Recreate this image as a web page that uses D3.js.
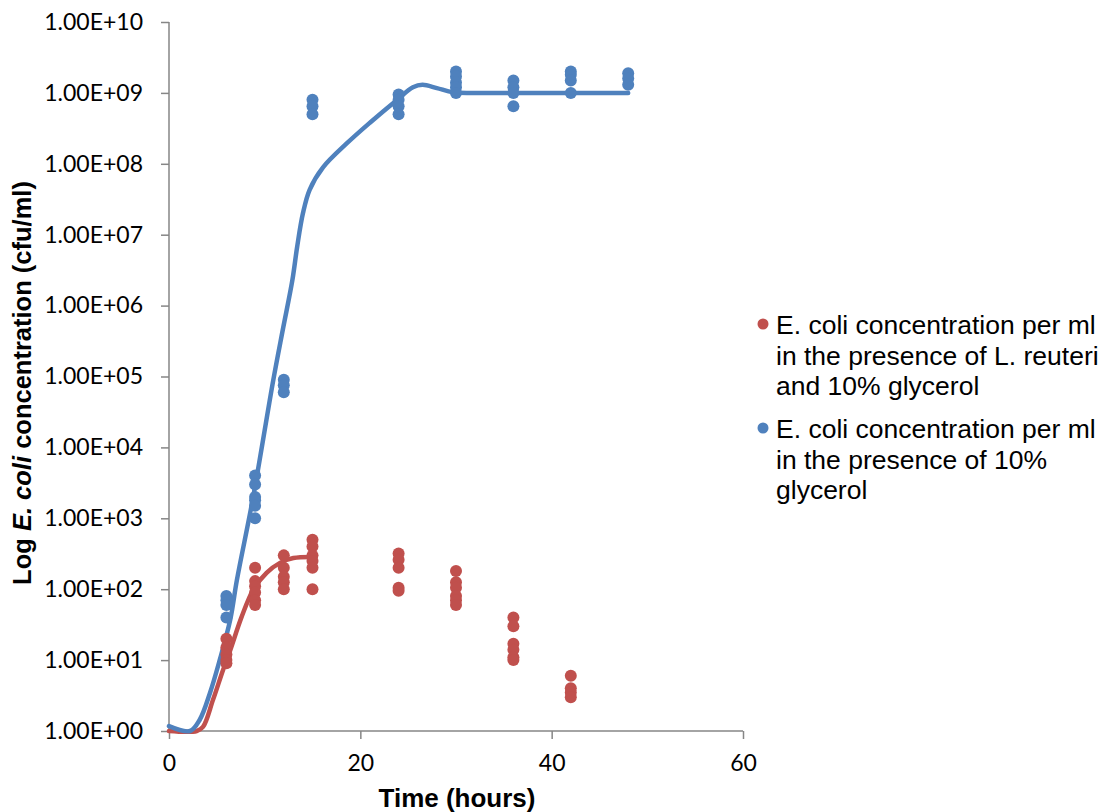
<!DOCTYPE html>
<html>
<head>
<meta charset="utf-8">
<script src="https://cdn.jsdelivr.net/npm/d3@7"></script>
<style>
  html, body { margin: 0; padding: 0; background: #fff; }
  svg { display: block; }
</style>
</head>
<body>
<svg id="chart" width="1108" height="812"></svg>
<script>
// ---- data ----
const glycerolHours = [6, 9, 12, 15, 24, 30, 36, 42, 48];
const glycerolCounts = [
  [80, 70, 60, 40],
  [4000, 3000, 2000, 1800, 1500, 1000],
  [90000, 75000, 60000],
  [8e8, 6.5e8, 5e8],
  [9.5e8, 8e8, 6.5e8, 5e8],
  [2e9, 1.7e9, 1.4e9, 1.2e9, 1e9],
  [1.5e9, 1.2e9, 1e9, 6.5e8],
  [2e9, 1.8e9, 1.5e9, 1e9],
  [1.9e9, 1.6e9, 1.3e9]
];
const reuteriHours = [6, 9, 12, 15, 24, 30, 36, 42];
const reuteriCounts = [
  [20, 15, 12, 10, 9],
  [200, 130, 110, 90, 70, 60],
  [300, 200, 150, 125, 100],
  [500, 400, 300, 250, 200, 100],
  [320, 260, 200, 105, 95],
  [180, 125, 105, 80, 70, 60],
  [40, 30, 17, 14, 11, 10],
  [6, 4, 3.5, 3]
];
// smoothed trend curves (sampled from the drawn curves)
const glycerolTrendHours = [0, 2.2, 3.2, 4.3, 5.3, 6.4, 7.1, 8.8, 10.9, 11.9, 12.9, 13.4, 14.0, 14.7, 16.1, 18.6, 21.0, 23.8, 25.5, 26.5, 28, 29.7, 32.5, 48];
const glycerolTrendValues = [1.17, 1.0, 1.43, 3.5, 10, 37, 135, 2000, 8.9e4, 4.6e5, 2.3e6, 6.8e6, 2.0e7, 4.3e7, 8.9e7, 1.95e8, 3.8e8, 7.9e8, 1.2e9, 1.3e9, 1.17e9, 1.02e9, 1e9, 1e9];
const reuteriTrendHours = [0, 2.9, 3.55, 4.6, 5.64, 6.4, 7.6, 8.8, 10.2, 11.6, 13.0, 14.9];
const reuteriTrendValues = [1, 1, 1.14, 2.75, 7.2, 13.8, 41, 98, 170, 235, 275, 285];

const xTicks = [0, 20, 40, 60];
const yTickExponents = [0, 1, 2, 3, 4, 5, 6, 7, 8, 9, 10];
const legendLabels = [
  ["E. coli concentration per ml", "in the presence of L. reuteri", "and 10% glycerol"],
  ["E. coli concentration per ml", "in the presence of 10%", "glycerol"]
];

// ---- styles ----
const RED = "#C0504D", BLUE = "#4F81BD", AXIS = "#868686";

const svg = d3.select("#chart");
const x = d3.scaleLinear().domain([0, 60]).range([169, 743]);
const y = d3.scaleLog().domain([1, 1e10]).range([731, 22]);

// axes
const yAxis = d3.axisLeft(y)
  .tickValues(yTickExponents.map(e => Math.pow(10, e)))
  .tickFormat(d => "1.00E+" + String(Math.round(Math.log10(d))).padStart(2, "0"))
  .tickSize(8).tickPadding(18);
const gy = svg.append("g").attr("transform", `translate(${x(0)},0)`).call(yAxis);

const xAxis = d3.axisBottom(x).tickValues(xTicks).tickFormat(d3.format("d"))
  .tickSize(8).tickPadding(16);
const gx = svg.append("g").attr("transform", `translate(0,${y(1)})`).call(xAxis);

[gx, gy].forEach(g => {
  g.select(".domain").attr("stroke", AXIS).attr("stroke-width", 1.5);
  g.selectAll(".tick line").attr("stroke", AXIS).attr("stroke-width", 1.5);
  g.selectAll(".tick text").attr("fill", "#000")
    .style("font-family", "Lato, 'Open Sans', sans-serif").style("font-size", "23px");
});
gx.select(".domain").attr("d", `M${x(0)},0H${x(60)}`);
gy.select(".domain").attr("d", `M0,${y(1)}V${y(1e10)}`);

// axis titles
svg.append("text")
  .attr("x", 457).attr("y", 807)
  .attr("text-anchor", "middle")
  .style("font-family", "'Liberation Sans', Arial, sans-serif")
  .style("font-weight", "bold").style("font-size", "26px")
  .text("Time (hours)");

const yt = svg.append("text")
  .attr("transform", "translate(31,383) rotate(-90)")
  .attr("text-anchor", "middle")
  .style("font-family", "'Liberation Sans', Arial, sans-serif")
  .style("font-weight", "bold").style("font-size", "25.5px");
yt.append("tspan").text("Log ");
yt.append("tspan").style("font-style", "italic").text("E. coli");
yt.append("tspan").text(" concentration (cfu/ml)");

// trend lines
const line = d3.line().x(d => x(d[0])).y(d => y(d[1])).curve(d3.curveCatmullRom.alpha(0.5));
svg.append("path")
  .datum(reuteriTrendHours.map((h, i) => [h, reuteriTrendValues[i]]))
  .attr("d", line).attr("fill", "none").attr("stroke", RED).attr("stroke-width", 4.5)
  .attr("stroke-linecap", "round").attr("stroke-linejoin", "round");
svg.append("path")
  .datum(glycerolTrendHours.map((h, i) => [h, glycerolTrendValues[i]]))
  .attr("d", line).attr("fill", "none").attr("stroke", BLUE).attr("stroke-width", 4.5)
  .attr("stroke-linecap", "round").attr("stroke-linejoin", "round");

// dots
function flatten(hours, counts) {
  const out = [];
  hours.forEach((h, i) => counts[i].forEach(v => out.push([h, v])));
  return out;
}
svg.append("g").selectAll("circle")
  .data(flatten(glycerolHours, glycerolCounts)).join("circle")
  .attr("cx", d => x(d[0])).attr("cy", d => y(d[1])).attr("r", 6).attr("fill", BLUE);
svg.append("g").selectAll("circle")
  .data(flatten(reuteriHours, reuteriCounts)).join("circle")
  .attr("cx", d => x(d[0])).attr("cy", d => y(d[1])).attr("r", 6).attr("fill", RED);

// legend
const legendColors = [RED, BLUE];
const legendTop = [334, 438];
legendLabels.forEach((lines, i) => {
  svg.append("circle").attr("cx", 763).attr("cy", legendTop[i] - 10).attr("r", 5.5)
    .attr("fill", legendColors[i]);
  const t = svg.append("text")
    .style("font-family", "'Liberation Sans', Arial, sans-serif")
    .style("font-size", "26.5px").attr("fill", "#000");
  lines.forEach((s, j) => {
    t.append("tspan").attr("x", 776).attr("y", legendTop[i] + j * 30.5).text(s);
  });
});
</script>
</body>
</html>
